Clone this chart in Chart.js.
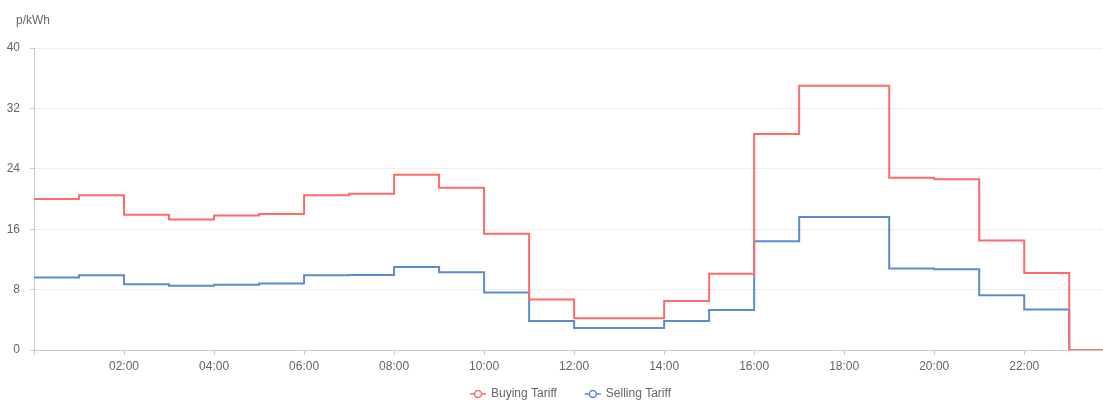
<!DOCTYPE html>
<html>
<head>
<meta charset="utf-8">
<script src="https://cdn.jsdelivr.net/npm/chart.js@4/dist/chart.umd.min.js"></script>
<style>
  html, body { margin: 0; padding: 0; background: #fff; }
  #wrap { width: 1103px; height: 400px; }
</style>
</head>
<body>
<div id="wrap"><canvas id="myChart"></canvas></div>
<script>
// hourly tariff data (hour of day -> p/kWh), last point closes the axis
var hours = [0, 1, 2, 3, 4, 5, 6, 7, 8, 9, 10, 11, 12, 13, 14, 15, 16, 17, 18, 19, 20, 21, 22, 23, 23.75];
var buying = [20.0, 20.5, 17.9, 17.3, 17.8, 18.0, 20.5, 20.7, 23.2, 21.5, 15.4, 6.7, 4.2, 4.2, 6.5, 10.1, 28.6, 35.0, 35.0, 22.8, 22.6, 14.5, 10.2, 0, 0];
var selling = [9.6, 9.9, 8.7, 8.5, 8.65, 8.8, 9.9, 9.95, 11.0, 10.3, 7.6, 3.85, 2.9, 2.9, 3.85, 5.3, 14.4, 17.6, 17.6, 10.8, 10.7, 7.25, 5.35, 0, 0];
var seriesNames = ["Buying Tariff", "Selling Tariff"];
var yTicks = [0, 8, 16, 24, 32, 40];
var xTicks = [0, 2, 4, 6, 8, 10, 12, 14, 16, 18, 20, 22];

var RED = "#ff6b6b";
var BLUE = "#5b8bd3";
var FONT = "12px 'Liberation Sans', Arial, sans-serif";

function pts(vals) {
  return hours.map(function (h, i) { return { x: h, y: vals[i] }; });
}

var unitLabel = {
  id: "unitLabel",
  afterDraw: function (chart) {
    var ctx = chart.ctx;
    ctx.save();
    ctx.font = FONT;
    ctx.fillStyle = "#666";
    ctx.textBaseline = "middle";
    ctx.textAlign = "left";
    ctx.fillText("p/kWh", 16, 21);
    ctx.restore();
  }
};

// legend drawn by hand: line + hollow circle marker, centred under the plot
var bottomLegend = {
  id: "bottomLegend",
  afterDraw: function (chart) {
    var ctx = chart.ctx;
    var area = chart.chartArea;
    var ds = chart.data.datasets;
    var mw = 16, gap = 5, itemGap = 28, y = 394;
    ctx.save();
    ctx.font = FONT;
    var total = 0;
    ds.forEach(function (d, i) {
      total += mw + gap + ctx.measureText(d.label).width;
      if (i < ds.length - 1) total += itemGap;
    });
    var x = (area.left + area.right) / 2 - total / 2 + 2;
    ds.forEach(function (d) {
      ctx.strokeStyle = d.borderColor;
      ctx.lineWidth = 1.5;
      ctx.beginPath(); ctx.moveTo(x, y); ctx.lineTo(x + mw, y); ctx.stroke();
      ctx.fillStyle = "#fff";
      ctx.beginPath(); ctx.arc(x + mw / 2, y, 3.5, 0, Math.PI * 2); ctx.fill(); ctx.stroke();
      ctx.fillStyle = "#666";
      ctx.textBaseline = "middle";
      ctx.textAlign = "left";
      ctx.fillText(d.label, x + mw + gap, y);
      x += mw + gap + ctx.measureText(d.label).width + itemGap;
    });
    ctx.restore();
  }
};

var config = {
  type: "line",
  data: {
    datasets: [
      {
        label: seriesNames[0],
        data: pts(buying),
        borderColor: RED,
        backgroundColor: RED,
        borderWidth: 2,
        stepped: "before",
        pointRadius: 0
      },
      {
        label: seriesNames[1],
        data: pts(selling),
        borderColor: BLUE,
        backgroundColor: BLUE,
        borderWidth: 2,
        stepped: "before",
        pointRadius: 0
      }
    ]
  },
  options: {
    responsive: true,
    maintainAspectRatio: false,
    animation: false,
    layout: { padding: { top: 48, right: 0, left: 0, bottom: 0 } },
    plugins: {
      tooltip: { enabled: false },
      legend: { display: false }
    },
    scales: {
      x: {
        type: "linear",
        min: 0,
        max: 23.75,
        afterBuildTicks: function (axis) {
          axis.ticks = xTicks.map(function (v) { return { value: v }; });
        },
        afterFit: function (axis) { axis.height = 50; },
        grid: {
          display: true,
          drawOnChartArea: false,
          drawTicks: true,
          tickLength: 5,
          color: "#ccc"
        },
        border: { color: "#ccc" },
        ticks: {
          color: "#666",
          padding: 4,
          maxRotation: 0,
          autoSkip: false,
          font: { family: "'Liberation Sans', Arial, sans-serif", size: 12 },
          callback: function (v) {
            if (v === 0) return "";
            return (v < 10 ? "0" : "") + v + ":00";
          }
        }
      },
      y: {
        min: 0,
        max: 40,
        afterBuildTicks: function (axis) {
          axis.ticks = yTicks.map(function (v) { return { value: v }; });
        },
        afterFit: function (axis) { axis.width = 34; },
        grid: {
          color: "#eeeeee",
          drawTicks: true,
          tickLength: 4,
          tickColor: "#ccc"
        },
        border: { color: "#ccc" },
        ticks: {
          color: "#666",
          padding: 10,
          font: { family: "'Liberation Sans', Arial, sans-serif", size: 12 }
        }
      }
    }
  },
  plugins: [unitLabel, bottomLegend]
};

var ctx = document.getElementById("myChart").getContext("2d");
var chart = new Chart(ctx, config);
</script>
</body>
</html>
